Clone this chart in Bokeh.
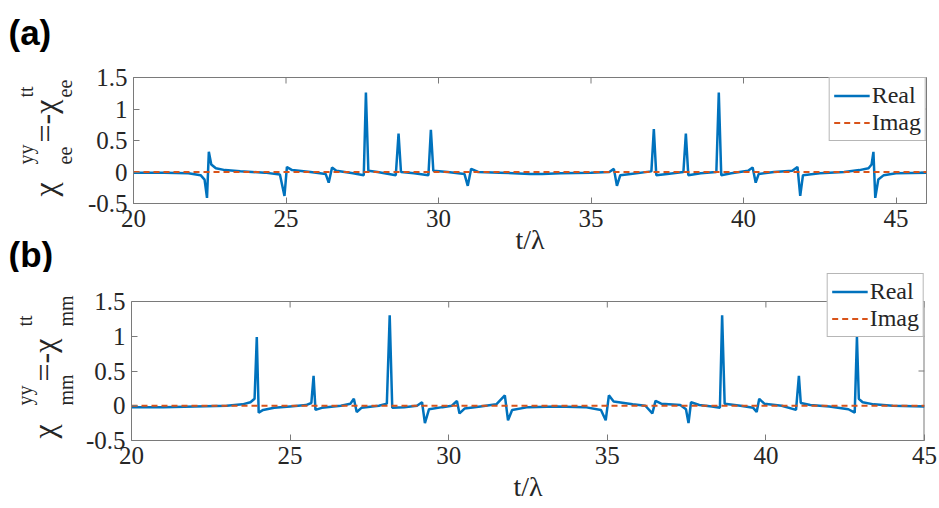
import math
from bokeh.plotting import figure
from bokeh.models import (Range1d, FixedTicker, LinearAxis, Label, Legend, LegendItem,
                          CustomJSTickFormatter)
from bokeh.layouts import column, row
from bokeh.embed import file_html
from bokeh.resources import INLINE

# ---------------- data ----------------
x_ticks_a = [20, 25, 30, 35, 40, 45]
x_ticks_b = [20, 25, 30, 35, 40, 45]
y_ticks = [-0.5, 0, 0.5, 1, 1.5]

# panel (a): chi_ee
t_a = [20.0, 21.0, 21.8, 22.2, 22.33, 22.41, 22.47, 22.55, 22.7, 23.0, 23.5, 24.3, 24.8, 24.95,
       25.03, 25.2, 25.8, 26.3, 26.40, 26.51, 26.65, 27.2, 27.55, 27.62, 27.70, 28.0, 28.6,
       28.69, 28.77, 29.2, 29.67, 29.75, 29.83, 30.3, 30.85, 30.96, 31.07, 31.3, 32.0, 33.0,
       33.4, 34.0, 35.0, 35.6, 35.75, 35.85, 35.96, 36.3, 36.98, 37.06, 37.14, 37.5, 38.03,
       38.11, 38.19, 38.6, 39.11, 39.19, 39.27, 39.6, 40.15, 40.30, 40.40, 40.5, 41.0, 41.6,
       41.77, 41.86, 41.95, 42.5, 43.3, 43.8, 44.1, 44.2, 44.26, 44.32, 44.42, 44.6, 45.0, 46.0]
real_a = [-0.01, -0.01, -0.02, -0.05, -0.12, -0.41, 0.32, 0.12, 0.06, 0.03, 0.01, -0.01, -0.04, -0.38,
          0.08, 0.03, 0.0, -0.03, -0.17, 0.07, 0.02, -0.02, -0.05, 1.26, 0.02, 0.0, -0.05,
          0.61, 0.0, -0.02, -0.05, 0.67, 0.02, 0.0, -0.03, -0.22, 0.05, 0.0, -0.01, -0.03,
          -0.03, -0.02, -0.01, 0.0, 0.05, -0.22, -0.05, -0.03, 0.01, 0.68, -0.05, -0.03, 0.0,
          0.61, -0.05, -0.02, 0.0, 1.26, -0.05, -0.02, 0.02, 0.07, -0.17, -0.03, 0.0, 0.02,
          0.08, -0.38, -0.05, -0.02, 0.0, 0.03, 0.06, 0.12, 0.32, -0.41, -0.12, -0.05, -0.02, -0.01]
t_imag_a = [20.0, 46.0]
imag_a = [0.0, 0.0]

# panel (b): chi_mm
t_b = [20.0, 21.0, 22.0, 23.0, 23.5, 23.75, 23.88, 23.95, 24.01, 24.15, 24.5, 25.0, 25.5, 25.67,
       25.74, 25.80, 26.0, 26.6, 26.9, 27.01, 27.10, 27.25, 27.8, 28.05, 28.14, 28.22, 28.6,
       29.0, 29.16, 29.25, 29.38, 29.8, 30.1, 30.26, 30.34, 30.5, 31.0, 31.5, 31.77, 31.87,
       32.0, 32.5, 33.4, 34.3, 34.8, 34.95, 35.05, 35.2, 35.8, 36.2, 36.42, 36.52, 36.7, 37.3,
       37.48, 37.56, 37.64, 37.9, 38.3, 38.55, 38.62, 38.70, 39.2, 39.6, 39.71, 39.79, 39.95,
       40.5, 40.95, 41.04, 41.10, 41.4, 42.0, 42.6, 42.80, 42.87, 42.93, 43.05, 43.4, 44.0, 45.0]
real_b = [-0.02, -0.02, -0.01, 0.0, 0.02, 0.05, 0.10, 0.99, -0.10, -0.06, -0.03, -0.01, 0.01, 0.04,
          0.43, -0.06, -0.03, 0.0, 0.03, 0.10, -0.09, -0.03, 0.0, 0.03, 1.30, -0.03, -0.02,
          0.0, 0.05, -0.25, -0.05, -0.02, 0.0, 0.07, -0.11, -0.04, -0.01, 0.02, 0.15, -0.21,
          -0.06, -0.02, -0.01, -0.02, -0.06, -0.21, 0.15, 0.06, 0.02, 0.0, -0.11, 0.07, 0.03, 0.01,
          -0.05, -0.25, 0.05, 0.01, -0.01, -0.03, 1.30, 0.03, 0.0, -0.03, -0.09, 0.10, 0.03,
          0.0, -0.06, 0.43, 0.04, 0.01, -0.01, -0.05, -0.10, 0.99, 0.10, 0.05, 0.02, 0.0, -0.01]
t_imag_b = [20.0, 45.0]
imag_b = [0.0, 0.0]

BLUE = "#0072BD"
ORANGE = "#D95319"
GREY = "#7a7a7a"
TXT = "#262626"
SERIF = "Liberation Serif"

W = 939
STRIP = 82          # width of the text strip holding the panel letters and y titles
YMIN, YMAX = -0.5, 1.5


def make_panel(t, real, ti, imag, xmax, xticks, height, borders, extra_top, label_standoff):
    """extra_top: pixels of empty room above the axes box, inside the frame (for the legend)."""
    left, right, top, bottom = borders
    fw = W - STRIP - left - right
    fh_box = height - top - bottom - extra_top
    ytop = YMAX + extra_top * (YMAX - YMIN) / fh_box
    p = figure(width=W - STRIP, height=height, x_range=Range1d(20, xmax),
               y_range=Range1d(YMIN, ytop), frame_align=False,
               output_backend="svg", toolbar_location=None, x_axis_type=None, y_axis_type=None,
               min_border_left=left, min_border_right=right, min_border_top=top,
               min_border_bottom=bottom)
    p.background_fill_color = "white"
    p.border_fill_color = "white"
    p.xgrid.visible = False
    p.ygrid.visible = False
    fmt = CustomJSTickFormatter(code="return tick.toString()")
    for place, ticks in (("below", xticks), ("left", y_ticks)):
        ax = LinearAxis(ticker=FixedTicker(ticks=ticks), formatter=fmt)
        ax.axis_line_color = GREY
        ax.major_tick_line_color = GREY
        ax.major_tick_in = 6
        ax.major_tick_out = 0
        ax.minor_tick_line_color = None
        ax.major_label_text_font = SERIF
        ax.major_label_text_color = TXT
        ax.major_label_text_font_size = "25px"
        ax.major_label_standoff = 6
        if place == "left":
            ax.bounds = (YMIN, YMAX)
        else:
            ax.axis_label = "t/λ"
            ax.axis_label_text_font = SERIF
            ax.axis_label_text_font_size = "28px"
            ax.axis_label_text_font_style = "normal"
            ax.axis_label_text_color = TXT
            ax.axis_label_standoff = label_standoff
        p.add_layout(ax, place)
    if extra_top == 0:
        p.outline_line_color = GREY
        p.outline_line_width = 1
    else:
        p.outline_line_color = None
        # top and right edges of the axes box
        p.segment(x0=[20], y0=[YMAX], x1=[xmax], y1=[YMAX], line_color=GREY, line_width=1)
        p.segment(x0=[xmax], y0=[YMIN], x1=[xmax], y1=[YMAX], line_color=GREY, line_width=2)
    # inward ticks on the top and right edges of the box
    dy = 6 * (YMAX - YMIN) / fh_box
    dx = 6 * (xmax - 20) / fw
    p.segment(x0=xticks, y0=[YMAX] * len(xticks), x1=xticks, y1=[YMAX - dy] * len(xticks),
              line_color=GREY, line_width=1)
    p.segment(x0=[xmax] * len(y_ticks), y0=y_ticks, x1=[xmax - dx] * len(y_ticks), y1=y_ticks,
              line_color=GREY, line_width=1)
    r1 = p.line(t, real, line_color=BLUE, line_width=2.5)
    r2 = p.line(ti, imag, line_color=ORANGE, line_width=2, line_dash="6 4")
    leg = Legend(items=[LegendItem(label="Real", renderers=[r1]),
                        LegendItem(label="Imag", renderers=[r2])],
                 location="top_right", margin=0, padding=4, spacing=0,
                 glyph_width=36, glyph_height=25, label_height=25, label_standoff=2,
                 label_text_font=SERIF, label_text_font_size="24px", label_text_color=TXT,
                 border_line_color="#6e6e6e", border_line_width=1,
                 background_fill_color="white", background_fill_alpha=1.0)
    p.add_layout(leg, "center")
    return p


# panel (a): box at x 133..926, y 77..203 ; figure y 0..272
pa = make_panel(t_a, real_a, t_imag_a, imag_a, 46, x_ticks_a, 272,
                (133 - STRIP, 13, 77, 69), 0, -6)
# panel (b): box at x 129..924, y 301..440 ; legend pokes out to y 273 ; figure y 272..508
pb = make_panel(t_b, real_b, t_imag_b, imag_b, 45, x_ticks_b, 236,
                (129 - STRIP, 15, 1, 68), 28, 4)


def strip(height):
    s = figure(width=STRIP, height=height, x_range=Range1d(0, STRIP), y_range=Range1d(height, 0),
               frame_align=False, output_backend="svg", toolbar_location=None,
               x_axis_type=None, y_axis_type=None,
               min_border=0, min_border_left=0, min_border_right=0, min_border_top=0,
               min_border_bottom=0)
    s.outline_line_color = None
    s.xgrid.visible = False
    s.ygrid.visible = False
    s.background_fill_color = "white"
    s.border_fill_color = "white"
    return s


sa = strip(272)
sb = strip(236)

# panel letters (pixel positions inside the strip)
for txt, py in (("(a)", 12), ("(b)", 234)):
    sa.add_layout(Label(x=8, y=py, text=txt, text_font="Liberation Sans", text_font_style="bold",
                        text_font_size="35px", text_color="black", text_align="left",
                        text_baseline="top"))

# rotated y-axis titles built from pieces: (text, size, x position, start y)
ylab_a = [("χ", 32, 44, 196), ("yy", 20, 25, 164), ("ee", 20, 64, 164),
          ("=-χ", 32, 44, 142), ("tt", 20, 25, 97), ("ee", 20, 64, 97)]
ylab_b = [("χ", 32, 43, 438 - 272), ("yy", 20, 24, 405 - 272), ("mm", 20, 65, 405 - 272),
          ("=-χ", 32, 43, 381 - 272), ("tt", 20, 24, 326 - 272), ("mm", 20, 65, 326 - 272)]

for fig, pieces in ((sa, ylab_a), (sb, ylab_b)):
    for txt, size, px, py in pieces:
        fig.add_layout(Label(x=px, y=py, text=txt, text_font=SERIF,
                             text_font_size=f"{size}px", text_color=TXT, angle=math.pi / 2,
                             text_align="left", text_baseline="middle"))

layout = column(row(sa, pa, spacing=0), row(sb, pb, spacing=0), spacing=0)
open("out.html", "w").write(file_html(layout, INLINE))
